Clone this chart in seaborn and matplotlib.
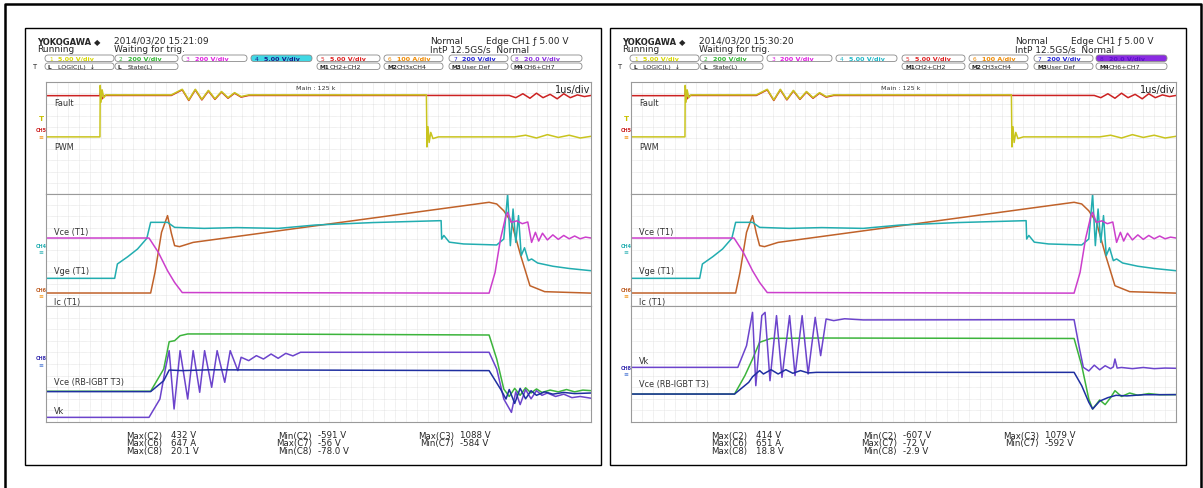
import numpy as np
import pandas as pd
import matplotlib.pyplot as plt
import seaborn as sns
from matplotlib import font_manager
from matplotlib.patches import FancyBboxPatch, Rectangle

# ---------------- waveform readings ----------------
# time in us (1us/div, 10 div), level in grid lines of each zone (0 = zone bottom, 10 = zone top)

# top zone (same in both captures)
fault_t = [0, 0.99, 1.0, 1.03, 1.08, 2.3, 2.5, 2.62, 2.74, 2.86, 2.98, 3.1, 3.22, 3.34, 3.46, 3.58, 3.72,
           8.5, 8.62, 8.75, 8.88, 9.0, 9.12, 9.25, 9.38, 9.5, 9.62, 9.75, 9.88, 10]
fault_v = [8.78, 8.78, 9.3, 8.5, 8.8, 8.8, 9.3, 8.35, 9.3, 8.4, 9.2, 8.45, 9.1, 8.55, 9.0, 8.65, 8.8,
           8.8, 8.6, 8.95, 8.55, 9.0, 8.6, 8.9, 8.5, 8.95, 8.6, 8.85, 8.7, 8.8]
pwm_t = [0, 0.99, 0.995, 1.01, 1.03, 1.06, 1.1, 2.3, 2.5, 2.62, 2.74, 2.86, 2.98, 3.1, 3.22, 3.34, 3.46, 3.58, 3.72,
         6.98, 6.99, 7.01, 7.03, 7.06, 7.1, 7.2, 8.6, 8.8, 9.0, 9.2, 9.4, 9.6, 9.8, 10]
pwm_v = [5.1, 5.1, 9.7, 8.2, 9.3, 8.6, 8.85, 8.85, 9.35, 8.4, 9.35, 8.45, 9.25, 8.5, 9.15, 8.6, 9.05, 8.7, 8.85,
         8.85, 4.2, 6.0, 4.6, 5.5, 4.95, 5.1, 5.1, 5.25, 5.0, 5.3, 5.05, 5.25, 5.0, 5.15]

# middle zone (T1), same in both captures
vce1_t = [0, 1.89, 2.06, 2.23, 2.36, 2.5, 8.13, 8.24, 8.34, 8.44, 8.47, 8.54, 8.64, 8.74, 8.84,
          8.91, 8.98, 9.04, 9.11, 9.2, 9.3, 9.4, 9.5, 9.6, 9.7, 9.8, 9.9, 10]
vce1_v = [6.07, 6.07, 4.8, 3.15, 2.1, 1.2, 1.15, 3.0, 6.0, 8.07, 8.36, 7.47, 7.6, 7.35, 7.5,
          5.68, 6.58, 5.8, 6.5, 5.9, 6.35, 5.95, 6.3, 6.0, 6.25, 6.0, 6.15, 6.07]
vge1_t = [0, 1.26, 1.31, 1.5, 1.68, 1.85, 1.92, 2.23, 2.36, 2.9, 3.5, 4.26, 4.94, 6.0, 7.25,
          7.26, 7.3, 7.4, 7.66, 8.27, 8.4, 8.47, 8.52, 8.57, 8.62, 8.67, 8.72, 8.78, 8.85, 8.91, 9.02, 9.3, 9.6, 10]
vge1_v = [2.47, 2.47, 3.75, 4.4, 5.09, 6.04, 7.47, 7.47, 7.02, 6.93, 7.0, 6.93, 7.23, 7.45, 7.62,
          5.98, 6.3, 5.7, 5.54, 5.45, 5.98, 10.0, 5.39, 8.66, 5.68, 8.07, 4.5, 5.2, 4.05, 4.2, 3.84, 3.55, 3.35, 3.15]
ic1_t = [0, 1.92, 2.0, 2.12, 2.23, 2.3, 2.36, 2.45, 2.7, 8.13, 8.27, 8.4, 8.54, 8.71, 8.88, 9.15, 10]
ic1_v = [1.16, 1.16, 3.0, 6.58, 8.07, 6.5, 5.39, 5.3, 5.68, 9.26, 9.11, 8.5, 7.47, 4.5, 1.81, 1.28, 1.15]

# bottom zone, first capture (15:21:09)
grn_l_t = [0, 1.92, 2.16, 2.26, 2.36, 2.46, 2.6, 3.5, 8.13, 8.27, 8.4, 8.5, 8.6, 8.7, 8.8, 8.9, 9.0, 9.1,
           9.25, 9.4, 9.55, 9.7, 9.85, 10]
grn_l_v = [2.65, 2.65, 4.57, 6.92, 7.01, 7.44, 7.59, 7.59, 7.5, 5.43, 2.84, 2.2, 2.9, 2.3, 2.95, 2.5, 2.85, 2.55,
           2.75, 2.6, 2.8, 2.6, 2.75, 2.7]
blu_l_t = [0, 1.92, 2.16, 2.26, 2.5, 3.0, 8.13, 8.34, 8.44, 8.5, 8.6, 8.7, 8.8, 8.9, 9.0, 9.15, 9.3, 9.5, 9.7, 10]
blu_l_v = [2.62, 2.62, 3.56, 4.48, 4.43, 4.5, 4.43, 2.84, 1.98, 2.8, 1.6, 2.9, 2.0, 2.7, 2.3, 2.6, 2.4, 2.55, 2.45, 2.5]
vk_l_t = [0, 1.89, 2.09, 2.19, 2.26, 2.35, 2.46, 2.6, 2.7, 2.82, 2.91, 3.04, 3.14, 3.28, 3.38,
          3.52, 3.58, 3.72, 3.86, 3.99, 4.13, 4.26, 4.4, 4.53, 4.67,
          8.13, 8.27, 8.4, 8.54, 8.62, 8.7, 8.8, 8.9, 9.0, 9.1, 9.2, 9.35, 9.5, 9.65, 9.8, 10]
vk_l_v = [0.4, 0.4, 1.98, 4.57, 6.15, 1.12, 6.15, 1.98, 6.15, 2.56, 6.15, 2.99, 6.15, 3.42, 6.15,
          4.43, 5.58, 5.29, 5.72, 5.43, 5.86, 5.49, 5.92, 5.7, 6.01,
          6.01, 4.57, 1.98, 0.83, 2.6, 1.5, 2.8, 2.0, 2.7, 2.3, 2.5, 2.2, 2.4, 2.1, 2.2, 2.05]

# bottom zone, second capture (15:30:20)
grn_r_t = [0, 1.9, 2.09, 2.23, 2.36, 2.57, 3.5, 8.13, 8.27, 8.4, 8.47, 8.6, 8.7, 8.8, 8.88, 9.0, 9.15, 9.3, 9.5, 9.7, 10]
grn_r_v = [2.41, 2.41, 4.0, 5.43, 6.87, 7.21, 7.24, 7.2, 4.86, 1.98, 1.12, 1.9, 1.5, 2.1, 2.7, 2.2, 2.5, 2.3, 2.45, 2.35, 2.36]
blu_r_t = [0, 1.9, 2.16, 2.23, 2.36, 2.43, 2.57, 2.7, 2.84, 2.97, 3.11, 3.25, 3.4, 8.13, 8.27, 8.4, 8.47,
           8.6, 8.75, 8.9, 9.1, 9.4, 10]
blu_r_v = [2.41, 2.41, 3.42, 3.9, 4.43, 4.14, 4.51, 4.14, 4.51, 4.2, 4.43, 4.23, 4.28, 4.28, 3.13, 1.7, 1.12,
           1.8, 2.1, 2.3, 2.25, 2.35, 2.36]
vk_r_t = [0, 1.96, 2.12, 2.23, 2.29, 2.4, 2.46, 2.55, 2.67, 2.77, 2.91, 3.01, 3.14, 3.25, 3.38,
          3.48, 3.58, 3.72, 3.92, 4.26, 8.13, 8.23, 8.3, 8.4, 8.5, 8.6, 8.7, 8.8, 8.85, 8.88,
          8.92, 9.0, 9.2, 9.4, 9.6, 9.8, 10]
vk_r_v = [4.71, 4.71, 6.58, 9.45, 3.13, 9.17, 9.45, 3.56, 9.17, 3.85, 9.17, 4.0, 9.17, 4.14, 9.02,
          5.72, 8.88, 8.74, 8.9, 8.8, 8.82, 6.3, 4.71, 4.4, 4.9, 4.5, 4.85, 4.6, 4.75, 5.43,
          4.65, 4.7, 4.6, 4.7, 4.6, 4.65, 4.63]

# screen texts
stamps = ["2014/03/20 15:21:09", "2014/03/20 15:30:20"]
ch_scales = ["5.00 V/div", "200 V/div", "200 V/div", "5.00 V/div", "5.00 V/div", "100 A/div", "200 V/div", "20.0 V/div"]
ch_colors = ["#d8d800", "#2fb52f", "#e020e0", "#1fb8c8", "#e02020", "#f08a00", "#2020d8", "#8a2be2"]
row2_items = {0: ("L", "LOGIC(L)  \u2193"), 1: ("L", "State(L)"), 4: ("M1", "CH2+CH2"),
              5: ("M2", "CH3xCH4"), 6: ("M3", "User Def"), 7: ("M4", "CH6+CH7")}
meas_labels = [["Max(C2)", "Max(C6)", "Max(C8)"], ["Min(C2)", "Max(C7)", "Min(C8)"], ["Max(C3)", "Min(C7)"]]
meas_left = [["432 V", "647 A", "20.1 V"], ["-591 V", "-56 V", "-78.0 V"], ["1088 V", "-584 V"]]
meas_right = [["414 V", "651 A", "18.8 V"], ["-607 V", "-72 V", "-2.9 V"], ["1079 V", "-592 V"]]

# ---------------- style ----------------
sns.set_style("white")
names = {f.name for f in font_manager.fontManager.ttflist}
narrow = "Liberation Sans Narrow" if "Liberation Sans Narrow" in names else "DejaVu Sans"
plt.rcParams["font.family"] = ["DejaVu Sans"]

W, H = 1203, 489
fig = plt.figure(figsize=(W / 100, H / 100), dpi=100)

# pixel-space overlay for frames and texts
bg = fig.add_axes([0, 0, 1, 1])
bg.set_xlim(0, W)
bg.set_ylim(H, 0)
bg.axis("off")
bg.set_zorder(5)
bg.plot([5, 5, 1201, 1201], [489, 5, 5, 489], color="black", lw=1.8)

C_RED, C_YEL = "#cc2222", "#c9c41e"
C_MAG, C_CYA, C_ORA = "#cc3fcc", "#22adb0", "#c0622a"
C_GRN, C_BLU, C_PUR = "#3cb43c", "#1f2fa0", "#6c44cc"

panels = [
    dict(dx=0, stamp=stamps[0], meas=meas_left, hi=3,
         bottom=[(grn_l_t, grn_l_v, C_GRN), (vk_l_t, vk_l_v, C_PUR), (blu_l_t, blu_l_v, C_BLU)],
         ch8_y=359, labels3=[("Vce (RB-IGBT T3)", 383), ("Vk", 412)]),
    dict(dx=585, stamp=stamps[1], meas=meas_right, hi=7,
         bottom=[(grn_r_t, grn_r_v, C_GRN), (vk_r_t, vk_r_v, C_PUR), (blu_r_t, blu_r_v, C_BLU)],
         ch8_y=368, labels3=[("Vk", 361), ("Vce (RB-IGBT T3)", 385)]),
]

slots = [(45, 114), (115, 178), (182, 247), (251, 312), (317, 380), (384, 443), (449, 508), (511, 582)]
zones = [(83, 195), (195, 307), (307, 423)]

for p in panels:
    dx = p["dx"]
    bg.add_patch(Rectangle((25 + dx, 29), 576, 437, fill=False, ec="black", lw=1.0))

    # header
    bg.text(37 + dx, 42, "YOKOGAWA \u25c6", fontsize=6.0, fontweight="bold", va="center")
    bg.text(114 + dx, 41, p["stamp"], fontsize=6.5, va="center", family=narrow)
    bg.text(37 + dx, 50, "Running", fontsize=6.5, va="center", family=narrow)
    bg.text(114 + dx, 50, "Waiting for trig.", fontsize=6.5, va="center", family=narrow)
    bg.text(430 + dx, 41, "Normal", fontsize=6.5, va="center", family=narrow)
    bg.text(486 + dx, 41, "Edge CH1 \u0192 5.00 V", fontsize=6.5, va="center", family=narrow)
    bg.text(430 + dx, 50, "IntP 12.5GS/s  Normal", fontsize=6.5, va="center", family=narrow)

    # channel boxes
    for i, (x0, x1) in enumerate(slots):
        fc = "white"
        tc = ch_colors[i]
        if i == p["hi"]:
            fc = ch_colors[i] if i != 3 else "#40d8e4"
            tc = "#1a1a8a" if i == 3 else "#5a10c8"
        bg.add_patch(FancyBboxPatch((x0 + dx, 56), x1 - x0, 6.5, boxstyle="round,pad=0,rounding_size=3.2",
                                    fc=fc, ec="#8a8a8a", lw=0.6))
        bg.text(x0 + dx + 4, 59.3, str(i + 1), fontsize=4.2, color=tc, va="center", family=narrow)
        bg.text(x0 + dx + 13, 59.3, ch_scales[i], fontsize=4.6, color=tc, va="center",
                fontweight="bold", family=narrow)
        if i in row2_items:
            tag, txt = row2_items[i]
            bg.add_patch(FancyBboxPatch((x0 + dx, 64), x1 - x0, 6.5, boxstyle="round,pad=0,rounding_size=3.2",
                                        fc="white", ec="#8a8a8a", lw=0.6))
            bg.text(x0 + dx + 3, 67.3, tag, fontsize=4.2, color="#222222", va="center", fontweight="bold", family=narrow)
            bg.text(x0 + dx + 13, 67.3, txt, fontsize=4.6, color="#222222", va="center", family=narrow)
    bg.text(33 + dx, 67.3, "T", fontsize=4.8, va="center", family=narrow)

    # waveform zones
    axes = []
    for (y0, y1) in zones:
        ax = fig.add_axes([(46 + dx) / W, 1 - y1 / H, 545 / W, (y1 - y0) / H])
        axes.append(ax)

    sns.lineplot(x=fault_t, y=fault_v, ax=axes[0], color=C_RED, lw=1.1, estimator=None, sort=False)
    sns.lineplot(x=pwm_t, y=pwm_v, ax=axes[0], color=C_YEL, lw=1.1, estimator=None, sort=False)
    sns.lineplot(x=ic1_t, y=ic1_v, ax=axes[1], color=C_ORA, lw=1.1, estimator=None, sort=False)
    sns.lineplot(x=vge1_t, y=vge1_v, ax=axes[1], color=C_CYA, lw=1.1, estimator=None, sort=False)
    sns.lineplot(x=vce1_t, y=vce1_v, ax=axes[1], color=C_MAG, lw=1.1, estimator=None, sort=False)
    for t, v, c in p["bottom"]:
        sns.lineplot(x=t, y=v, ax=axes[2], color=c, lw=1.1, estimator=None, sort=False)

    for ax in axes:
        ax.set_xlim(0, 10)
        ax.set_ylim(0, 10)
        ax.set_xticks(np.arange(0, 10.01, 0.2))
        ax.set_yticks(np.arange(0, 10.01, 1))
        ax.tick_params(length=0, labelbottom=False, labelleft=False)
        ax.set_xlabel("")
        ax.set_ylabel("")
        ax.grid(True, color="#d0d0d0", lw=0.4, ls=(0, (1, 1)))
        for s in ax.spines.values():
            s.set_color("#9a9a9a")
            s.set_linewidth(0.8)

    # texts inside the screen
    bg.text(296 + dx, 88, "Main : 125 k", fontsize=4.6, va="center", color="#333333", family=narrow)
    bg.text(590 + dx, 89.5, "1us/div", fontsize=7, va="center", ha="right", color="#222222", family=narrow)
    for s, y in [("Fault", 103), ("PWM", 148), ("Vce (T1)", 232), ("Vge (T1)", 272), ("Ic (T1)", 302)] + p["labels3"]:
        bg.text(54 + dx, y, s, fontsize=5.9, va="center", color="#333333")

    # channel markers
    bg.text(41 + dx, 119, "T", fontsize=5.2, color="#c8c000", va="center", ha="center", fontweight="bold")
    bg.text(41 + dx, 131, "CH5", fontsize=3.5, color="#cc2222", va="center", ha="center", fontweight="bold")
    bg.text(41 + dx, 137, "\u2261", fontsize=4.2, color="#f08a00", va="center", ha="center")
    bg.text(41 + dx, 246, "CH4", fontsize=3.5, color=C_CYA, va="center", ha="center", fontweight="bold")
    bg.text(41 + dx, 252, "\u2261", fontsize=4.2, color=C_CYA, va="center", ha="center")
    bg.text(41 + dx, 290, "CH6", fontsize=3.5, color=C_ORA, va="center", ha="center", fontweight="bold")
    bg.text(41 + dx, 296, "\u2261", fontsize=4.2, color="#f08a00", va="center", ha="center")
    bg.text(41 + dx, p["ch8_y"], "CH8", fontsize=3.5, color="#3a30b0", va="center", ha="center", fontweight="bold")
    bg.text(41 + dx, p["ch8_y"] + 6, "\u2261", fontsize=4.2, color="#3a6ad0", va="center", ha="center")

    # measurement readout
    for col, (lx, vx) in enumerate([(162, 171), (312, 318), (454, 460)]):
        for row, lab in enumerate(meas_labels[col]):
            y = 436 + row * 7.8
            bg.text(lx + dx, y, lab, fontsize=6.2, va="center", ha="right", family=narrow)
            bg.text(vx + dx, y, p["meas"][col][row], fontsize=6.2, va="center", family=narrow)

fig.savefig("out.png", dpi=100, facecolor="white")
